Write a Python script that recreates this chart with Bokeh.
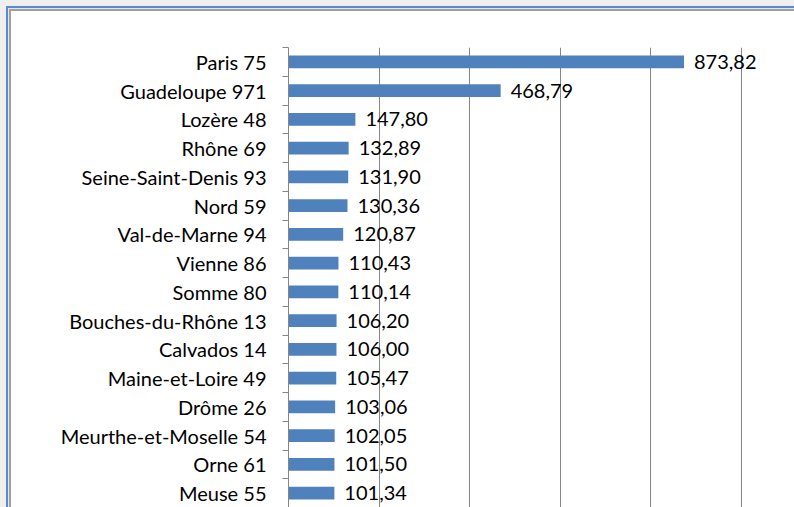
from bokeh.plotting import figure
from bokeh.models import Range1d, FixedTicker, ColumnDataSource
from bokeh.embed import file_html
from bokeh.resources import INLINE
from bokeh.core.properties import value

departements = [
    "Paris 75", "Guadeloupe 971", "Lozère 48", "Rhône 69", "Seine-Saint-Denis 93",
    "Nord 59", "Val-de-Marne 94", "Vienne 86", "Somme 80", "Bouches-du-Rhône 13",
    "Calvados 14", "Maine-et-Loire 49", "Drôme 26", "Meurthe-et-Moselle 54",
    "Orne 61", "Meuse 55",
]
valeurs = [
    873.82, 468.79, 147.80, 132.89, 131.90, 130.36, 120.87, 110.43, 110.14,
    106.20, 106.00, 105.47, 103.06, 102.05, 101.50, 101.34,
]
x_ticks = [0, 200, 400, 600, 800, 1000]

FONT = "Lato"
idx = list(range(len(departements)))
labels = [f"{v:.2f}".replace(".", ",") for v in valeurs]
src = ColumnDataSource(dict(y=idx, v=valeurs, lab=labels))

p = figure(width=794, height=507, output_backend="svg", toolbar_location=None,
           x_range=Range1d(0, 1118), y_range=Range1d(len(idx) - 0.5, -0.5),
           min_border_left=288, min_border_top=47, min_border_bottom=0,
           min_border_right=0, x_axis_location=None)
p.outline_line_color = None
p.background_fill_color = "white"
p.border_fill_color = None
p.styles = {
    "background-color": "white",
    "box-shadow": ("inset 6px 6px 0 0 #efefef, inset 8px 8px 0 0 #5a8bd2, "
                   "inset 9px 9px 0 0 #e6e6e6, inset 11px 11px 0 0 #a0a0a0"),
}

p.hbar(y="y", right="v", left=0, height=0.45, source=src,
       fill_color="#4F81BD", line_color=None)
p.text(x="v", y="y", text="lab", source=src, x_offset=10,
       text_baseline="middle", text_align="left", text_font=value(FONT),
       text_font_size="20px", text_color="#000000")

p.xgrid.ticker = FixedTicker(ticks=x_ticks)
p.xgrid.grid_line_color = "#868686"
p.xgrid.grid_line_width = 1
p.ygrid.grid_line_color = None

ya = p.yaxis[0]
ya.ticker = FixedTicker(ticks=idx, minor_ticks=[i - 0.5 for i in range(len(idx) + 1)])
ya.major_label_overrides = {i: d for i, d in zip(idx, departements)}
ya.major_tick_out = 0
ya.major_tick_in = 0
ya.minor_tick_out = 6
ya.minor_tick_in = 0
ya.minor_tick_line_color = "#868686"
ya.axis_line_color = "#868686"
ya.major_label_standoff = 16
ya.major_label_text_font = FONT
ya.major_label_text_font_size = "20px"
ya.major_label_text_color = "#000000"

open("out.html", "w").write(file_html(p, INLINE))
